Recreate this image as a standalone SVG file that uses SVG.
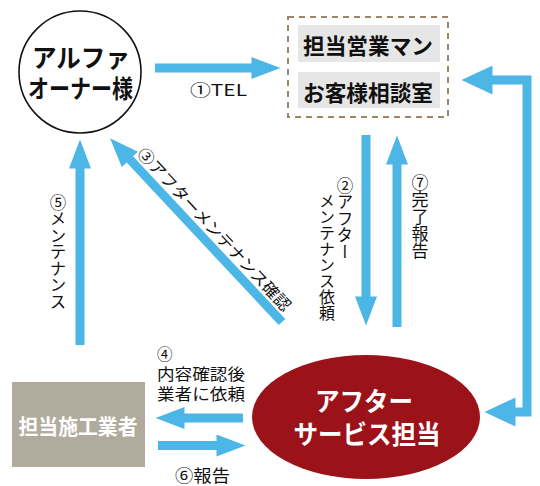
<svg xmlns="http://www.w3.org/2000/svg" width="540" height="486" viewBox="0 0 540 486">
<style>
text{font-family:"Noto Sans CJK JP","Liberation Sans",sans-serif;fill:#111}
.b{font-weight:bold}
.w{fill:#fff}
.c{dominant-baseline:central;text-anchor:middle}
.m{dominant-baseline:central}
.v{writing-mode:vertical-rl}
.sh{stroke:#4cb6e6;stroke-width:9;fill:none}
</style>
<defs>
<marker id="ah" markerUnits="userSpaceOnUse" markerWidth="30" markerHeight="22" viewBox="0 0 29 22" refX="0.5" refY="11" orient="auto-start-reverse">
<path d="M0,0 L29,11 L0,22 z" fill="#4cb6e6"/>
</marker>
<marker id="ahb" markerUnits="userSpaceOnUse" markerWidth="31" markerHeight="29" viewBox="0 0 30 28" refX="0.5" refY="14" orient="auto-start-reverse">
<path d="M0,0 L30,14 L0,28 z" fill="#4cb6e6"/>
</marker>
</defs>
<rect width="540" height="486" fill="#fff"/>

<g id="connectors">
<line class="sh" x1="155" y1="68" x2="252" y2="68" marker-end="url(#ah)"/>
<line class="sh" x1="366" y1="135" x2="366" y2="297" marker-end="url(#ah)"/>
<line class="sh" x1="397" y1="327" x2="397" y2="164" marker-end="url(#ah)"/>
<line class="sh" x1="80" y1="345" x2="80" y2="168" marker-end="url(#ah)"/>
<line class="sh" x1="282" y1="322" x2="129.5" y2="159" marker-end="url(#ah)"/>
<path class="sh" d="M492,80 H527 V412 H515" marker-start="url(#ahb)" marker-end="url(#ahb)"/>
<line class="sh" x1="243" y1="418" x2="184" y2="418" marker-end="url(#ah)"/>
<line class="sh" x1="158" y1="445.5" x2="217" y2="445.5" marker-end="url(#ah)"/>
</g>

<g id="owner">
<circle cx="80" cy="72" r="61" fill="#fff" stroke="#111" stroke-width="1.6"/>
<text class="b c"><tspan x="81" y="55" font-size="25.5" textLength="98" lengthAdjust="spacingAndGlyphs">アルファ</tspan><tspan x="80.5" y="86.5" font-size="25" textLength="105" lengthAdjust="spacingAndGlyphs">オーナー様</tspan></text>
</g>

<g id="sales">
<rect x="288" y="17" width="160" height="100" fill="none" stroke="#9d8565" stroke-width="2" stroke-dasharray="6 5"/>
<rect x="298" y="25" width="142" height="37" fill="#e6e6e7"/>
<rect x="298" y="72" width="142" height="36" fill="#e6e6e7"/>
<text class="b c" x="368" y="43.5" font-size="22" textLength="130" lengthAdjust="spacingAndGlyphs">担当営業マン</text>
<text class="b c" x="368" y="91" font-size="22" textLength="130" lengthAdjust="spacingAndGlyphs">お客様相談室</text>
</g>

<g id="contractor">
<rect x="12" y="382" width="133" height="85" fill="#b1ab9d"/>
<text class="b c w" x="78" y="425" font-size="21" textLength="119" lengthAdjust="spacingAndGlyphs">担当施工業者</text>
</g>

<g id="aftersvc">
<ellipse cx="366" cy="417" rx="114" ry="62" fill="#9b1219"/>
<text class="b c w"><tspan x="364" y="399" font-size="26" textLength="98" lengthAdjust="spacingAndGlyphs">アフター</tspan><tspan x="367" y="432" font-size="26" textLength="147" lengthAdjust="spacingAndGlyphs">サービス担当</tspan></text>
</g>

<g id="labels">
<text class="m" x="190" y="89" font-size="16" textLength="57" lengthAdjust="spacingAndGlyphs">①TEL</text>
<text class="v" x="345" y="177" font-size="16.5">②アフター</text>
<text class="v" x="327" y="193" font-size="16">メンテナンス依頼</text>
<text class="v" x="420" y="174" font-size="17">⑦完了報告</text>
<text class="v" x="58" y="194" font-size="16.5">⑤メンテナンス</text>
<text class="m" transform="translate(110,138) rotate(47)" x="30" y="-15" font-size="16" textLength="216" lengthAdjust="spacingAndGlyphs">③アフターメンテナンス確認</text>
<text class="m" font-size="16"><tspan x="157" y="352.5" font-size="15.5">④</tspan><tspan x="157" y="372.5" textLength="88" lengthAdjust="spacingAndGlyphs">内容確認後</tspan><tspan x="157" y="392.5" textLength="88" lengthAdjust="spacingAndGlyphs">業者に依頼</tspan></text>
<text class="m" x="175" y="474" font-size="17" textLength="55" lengthAdjust="spacingAndGlyphs">⑥報告</text>
</g>
</svg>
